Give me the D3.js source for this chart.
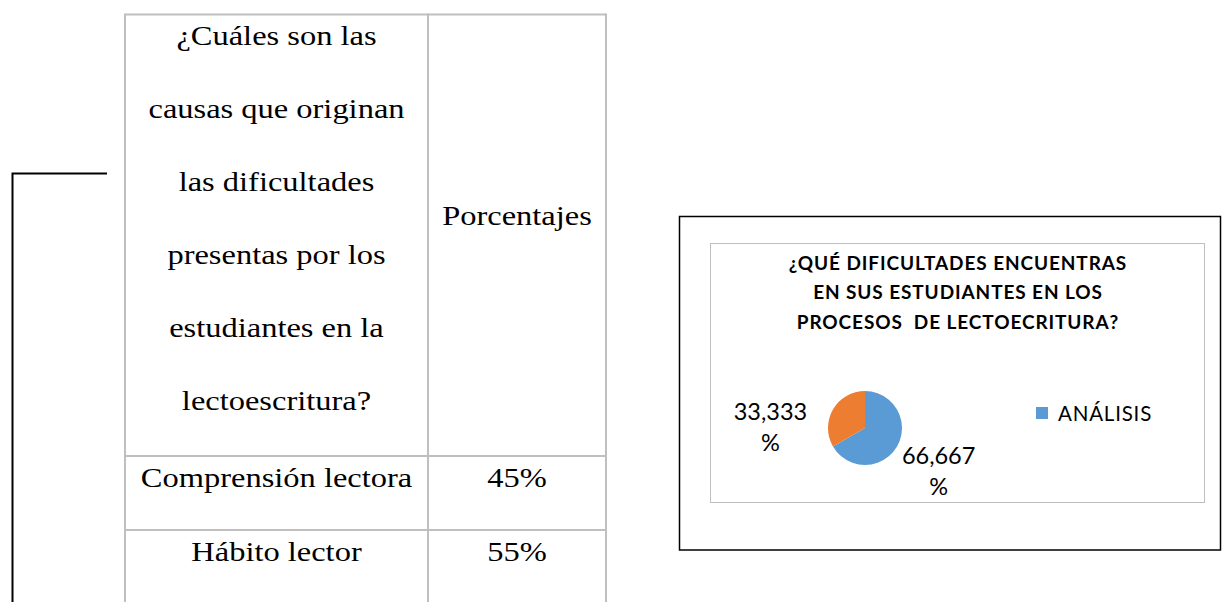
<!DOCTYPE html>
<html>
<head>
<meta charset="utf-8">
<script src="https://cdn.jsdelivr.net/npm/d3@7"></script>
<style>
  body { margin: 0; background: #fff; }
  svg { display: block; }
</style>
</head>
<body>
<div id="chart"></div>
<script>
// table data
var headerLines = ["¿Cuáles son las", "causas que originan", "las dificultades",
                   "presentas por los", "estudiantes en la", "lectoescritura?"];
var headerRight = "Porcentajes";
var rowLabels = ["Comprensión lectora", "Hábito lector"];
var rowValues = ["45%", "55%"];

// pie data
var pieTitle = ["¿QUÉ DIFICULTADES ENCUENTRAS", "EN SUS ESTUDIANTES EN LOS", "PROCESOS  DE LECTOECRITURA?"];
var pieValues = [66.667, 33.333];
var pieLabels = [["66,667", "%"], ["33,333", "%"]];
var pieColors = ["#5B9BD5", "#ED7D31"];
var legendNames = ["ANÁLISIS"];

var W = 1224, H = 602;
var svg = d3.select("#chart").append("svg")
    .attr("width", W)
    .attr("height", H);

// bracket line on the left
svg.append("path")
    .attr("d", "M107,173.5H12.5V602")
    .attr("fill", "none")
    .attr("stroke", "#000")
    .attr("stroke-width", 2);

// ---- table ----
var tbl = {left: 125, mid: 428, right: 606, top: 14.5, headBottom: 456, rowH: 74};
var grid = svg.append("g").attr("stroke", "#bfbfbf").attr("stroke-width", 2).attr("fill", "none");
grid.append("line").attr("x1", tbl.left).attr("x2", tbl.right).attr("y1", tbl.top).attr("y2", tbl.top);
[tbl.left, tbl.mid, tbl.right].forEach(function(x) {
  grid.append("line").attr("x1", x).attr("x2", x).attr("y1", tbl.top - 1).attr("y2", H);
});
rowLabels.forEach(function(d, i) {
  var yy = tbl.headBottom + i * tbl.rowH;
  grid.append("line").attr("x1", tbl.left).attr("x2", tbl.right).attr("y1", yy).attr("y2", yy);
});

var serif = "'Liberation Serif', 'Times New Roman', serif";
var stretch = 1.16; // the original page is a bit wider than tall
var c1 = (tbl.left + tbl.mid) / 2, c2 = (tbl.mid + tbl.right) / 2;

function cellText(x, y, s) {
  svg.append("text")
      .attr("transform", "translate(" + x + "," + y + ") scale(" + stretch + ",1)")
      .attr("dy", "0.35em")
      .attr("text-anchor", "middle")
      .style("font-family", serif)
      .style("font-size", "28px")
      .text(s);
}

var lineY = d3.scaleLinear().domain([0, headerLines.length - 1]).range([35, 400]);
headerLines.forEach(function(s, i) { cellText(c1, lineY(i), s); });
cellText(c2, 215, headerRight);

var rowY = function(i) { return tbl.headBottom + 21 + i * tbl.rowH; };
rowLabels.forEach(function(s, i) { cellText(c1, rowY(i), s); });
rowValues.forEach(function(s, i) { cellText(c2, rowY(i), s); });

// ---- pie chart ----
var sans = "Lato, 'Open Sans', sans-serif";
svg.append("rect")
    .attr("x", 679.5).attr("y", 216.5).attr("width", 541).attr("height", 333.5)
    .attr("fill", "#fff").attr("stroke", "#000").attr("stroke-width", 1.5);
svg.append("rect")
    .attr("x", 710.5).attr("y", 243.5).attr("width", 494).attr("height", 259)
    .attr("fill", "#fff").attr("stroke", "#bfbfbf").attr("stroke-width", 1);

svg.append("g").selectAll("text")
    .data(pieTitle)
  .enter().append("text")
    .attr("x", 958)
    .attr("y", function(d, i) { return 263 + i * 29.5; })
    .attr("dy", "0.35em")
    .attr("text-anchor", "middle")
    .style("font-family", sans).style("font-weight", "bold").style("font-size", "19px")
    .style("letter-spacing", "0.9px")
    .style("white-space", "pre")
    .text(function(d) { return d; });

var cx = 865, cy = 428, r = 37;
var pie = d3.pie().sort(null);
var arc = d3.arc().innerRadius(0).outerRadius(r);
var labelArc = d3.arc().innerRadius(r + 48).outerRadius(r + 48);
var labelNudge = [[0, 0], [-21, 42]];

var pg = svg.append("g").attr("transform", "translate(" + cx + "," + cy + ")");
var arcs = pie(pieValues);
pg.selectAll("path")
    .data(arcs)
  .enter().append("path")
    .attr("d", arc)
    .attr("fill", function(d, i) { return pieColors[i]; });

arcs.forEach(function(a, i) {
  var c = labelArc.centroid(a);
  var t = pg.append("text")
      .attr("text-anchor", "middle")
      .style("font-family", sans).style("font-size", "23.5px")
      .attr("transform", "translate(" + (c[0] + labelNudge[i][0]) + "," + (c[1] + labelNudge[i][1]) + ")");
  pieLabels[i].forEach(function(s, j) {
    t.append("tspan").attr("x", 0).attr("y", -7 + j * 31).text(s);
  });
});

// legend
var lg = svg.append("g").attr("transform", "translate(1036,407)");
legendNames.forEach(function(name, i) {
  lg.append("rect").attr("width", 12).attr("height", 12).attr("fill", pieColors[i]);
  lg.append("text").attr("x", 22).attr("y", 7).attr("dy", "0.35em")
    .style("font-family", sans).style("font-size", "20.5px")
    .style("letter-spacing", "0.8px")
    .text(name);
});
</script>
</body>
</html>
